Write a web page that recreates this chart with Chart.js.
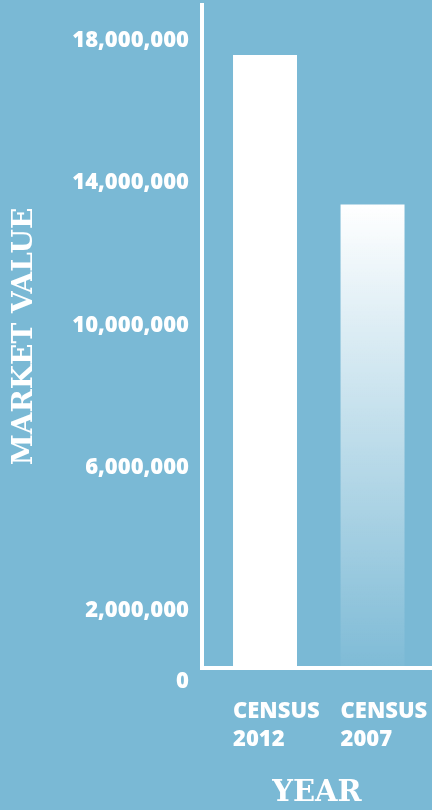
<!DOCTYPE html>
<html>
<head>
<meta charset="utf-8">
<script src="https://cdn.jsdelivr.net/npm/chart.js@4.4.1/dist/chart.umd.min.js"></script>
<style>
    html, body { margin: 0; padding: 0; background: #7ab9d5; overflow: hidden; }
    #wrap { width: 432px; height: 810px; position: relative; }
</style>
</head>
<body>
<div id="wrap"><canvas id="marketChart"></canvas></div>
<script>
// Census market value chart

const categories = [['CENSUS', '2012'], ['CENSUS', '2007']];
const categoryPos = [1, 2];
const marketValues = [17200000, 13000000];
const yTicks = [0, 2000000, 6000000, 10000000, 14000000, 18000000];
const yMax = 18600000;

const tickFont = { family: "'Open Sans', sans-serif", size: 22, weight: 800 };
const slabFont = "'DejaVu Serif', serif";

// first bar solid white, second fades out towards the axis
function barFill(context) {
    const chart = context.chart;
    const area = chart.chartArea;
    if (!area || context.dataIndex === 0) {
        return '#ffffff';
    }
    const top = chart.scales.y.getPixelForValue(context.raw.y);
    const grad = chart.ctx.createLinearGradient(0, top, 0, area.bottom);
    grad.addColorStop(0, 'rgba(255, 255, 255, 1)');
    grad.addColorStop(1, 'rgba(255, 255, 255, 0.04)');
    return grad;
}

// keep the edge labels from pushing the plot area inwards
function noEdgePadding(scale) {
    scale.paddingLeft = 0;
    scale.paddingRight = 0;
    scale.paddingTop = 0;
    scale.paddingBottom = 0;
}

const ctx = document.getElementById('marketChart').getContext('2d');
const marketChart = new Chart(ctx, {
    type: 'bar',
    data: {
        datasets: [{
            data: marketValues.map((v, i) => ({ x: categoryPos[i], y: v })),
            backgroundColor: barFill,
            borderWidth: 0,
            categoryPercentage: 1,
            barPercentage: 0.595
        }]
    },
    options: {
        responsive: true,
        maintainAspectRatio: false,
        animation: false,
        layout: {
            padding: { top: 5, left: 0, right: 0, bottom: 0 }
        },
        plugins: {
            legend: { display: false },
            tooltip: { enabled: false }
        },
        scales: {
            x: {
                type: 'linear',
                offset: false,
                min: 0.414,
                max: 2.553,
                grid: { display: false, drawTicks: false },
                border: { display: true, color: '#ffffff', width: 4 },
                afterBuildTicks: function(scale) {
                    scale.ticks = categoryPos.map(v => ({ value: v }));
                },
                ticks: {
                    color: '#ffffff',
                    font: Object.assign({}, tickFont, { lineHeight: 1.25 }),
                    align: 'start',
                    labelOffset: -32,
                    padding: 30,
                    maxRotation: 0,
                    autoSkip: false,
                    callback: v => categories[categoryPos.indexOf(v)]
                },
                title: {
                    display: true,
                    text: 'YEAR',
                    color: '#ffffff',
                    font: { family: slabFont, size: 29, weight: 'bold', lineHeight: 1.15 },
                    padding: { top: 0, bottom: 0 }
                },
                afterFit: function(scale) {
                    noEdgePadding(scale);
                    scale.height = 142;
                }
            },
            y: {
                min: 0,
                max: yMax,
                grid: { display: false, drawTicks: false },
                border: { display: true, color: '#ffffff', width: 4 },
                afterBuildTicks: function(scale) {
                    scale.ticks = yTicks.map(v => ({ value: v }));
                },
                ticks: {
                    color: '#ffffff',
                    font: tickFont,
                    padding: 13,
                    labelOffset: 14,
                    autoSkip: false,
                    callback: v => Number(v).toLocaleString('en-US')
                },
                title: {
                    display: true,
                    text: 'MARKET VALUE',
                    color: '#ffffff',
                    font: { family: slabFont, size: 28, weight: 'bold' },
                    padding: { top: 8, bottom: 0 }
                },
                afterFit: function(scale) {
                    noEdgePadding(scale);
                    scale.width = 202;
                }
            }
        }
    }
});
</script>
</body>
</html>
